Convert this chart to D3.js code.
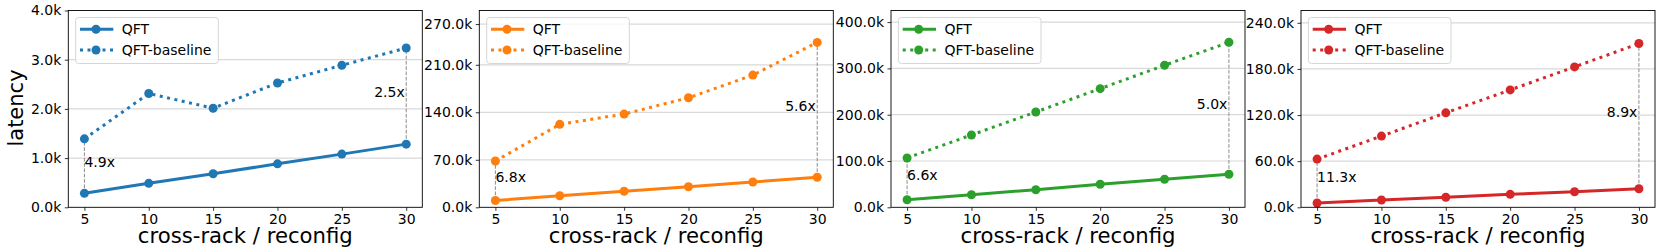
<!DOCTYPE html>
<html>
<head>
<meta charset="utf-8">
<script src="https://cdn.jsdelivr.net/npm/d3@7"></script>
<style>
body { margin: 0; background: #fff; }
text { font-family: "DejaVu Sans", sans-serif; }
</style>
</head>
<body>
<svg id="chart"></svg>
<script>
// x values shared by all panels
var xs = [5, 10, 15, 20, 25, 30];

// QFT / QFT-baseline latency per panel
var qft1 = [284, 487, 682, 884, 1081, 1284];
var base1 = [1391, 2312, 2014, 2527, 2886, 3237];
var qft2 = [10000, 17100, 23600, 30300, 37300, 44200];
var base2 = [68200, 122200, 137400, 161400, 194800, 243000];
var qft3 = [16400, 27200, 38000, 49700, 60500, 71300];
var base3 = [106500, 156200, 205800, 256200, 306700, 356400];
var qft4 = [5600, 9500, 13000, 16900, 20300, 24200];
var base4 = [62700, 92600, 122900, 152700, 182600, 213000];

// y ticks and axis tops
var ticks1 = [0, 1000, 2000, 3000, 4000];
var ticks2 = [0, 70000, 140000, 210000, 270000];
var ticks3 = [0, 100000, 200000, 300000, 400000];
var ticks4 = [0, 60000, 120000, 180000, 240000];
var ymax = [4000, 290000, 425000, 256000];

// speedup labels (first point, last point)
var ratios = [["4.9x", "2.5x"], ["6.8x", "5.6x"], ["6.6x", "5.0x"], ["11.3x", "8.9x"]];

var colors = ["#1f77b4", "#ff7f0e", "#2ca02c", "#d62728"];

var panels = [
  {qft: qft1, base: base1, ticks: ticks1},
  {qft: qft2, base: base2, ticks: ticks2},
  {qft: qft3, base: base3, ticks: ticks3},
  {qft: qft4, base: base4, ticks: ticks4}
];

var svg = d3.select("#chart")
  .attr("width", 1661)
  .attr("height", 252);

var lefts = [68.3, 479.3, 891, 1301];
var width = 354;
var plotTop = 10.5, plotBottom = 207.3;
var height = plotBottom - plotTop;

panels.forEach(function(p, i) {
  var color = colors[i];
  var g = svg.append("g")
    .attr("transform", "translate(" + lefts[i] + "," + plotTop + ")");

  var xScale = d3.scaleLinear().domain([3.75, 31.25]).range([0, width]);
  var yScale = d3.scaleLinear().domain([0, ymax[i]]).range([height, 0]);

  // grid
  g.selectAll(".grid")
    .data(p.ticks.filter(function(t) { return t > 0; }))
    .enter()
    .append("line")
    .attr("x1", 0).attr("x2", width)
    .attr("y1", function(d) { return yScale(d); })
    .attr("y2", function(d) { return yScale(d); })
    .attr("stroke", "#d9d9d9")
    .attr("stroke-width", 1.2);

  // speedup guides
  var ends = [0, xs.length - 1];
  ends.forEach(function(k, j) {
    var x = xScale(xs[k]);
    g.append("line")
      .attr("x1", x).attr("x2", x)
      .attr("y1", yScale(p.qft[k])).attr("y2", yScale(p.base[k]))
      .attr("stroke", "#8c8c8c")
      .attr("stroke-width", 1)
      .attr("stroke-dasharray", "3.7,1.6");
    var mid = (yScale(p.qft[k]) + yScale(p.base[k])) / 2;
    g.append("text")
      .attr("x", j == 0 ? x : x - 1.5)
      .attr("y", mid + 1)
      .attr("text-anchor", j == 0 ? "start" : "end")
      .attr("font-size", "14px")
      .attr("fill", "#000")
      .text(ratios[i][j]);
  });

  var line = d3.line()
    .x(function(d, k) { return xScale(xs[k]); })
    .y(function(d) { return yScale(d); });

  g.append("path")
    .attr("d", line(p.base))
    .attr("fill", "none")
    .attr("stroke", color)
    .attr("stroke-width", 3)
    .attr("stroke-dasharray", "3,4.5");
  g.append("path")
    .attr("d", line(p.qft))
    .attr("fill", "none")
    .attr("stroke", color)
    .attr("stroke-width", 3);

  [p.base, p.qft].forEach(function(series) {
    g.selectAll(null)
      .data(series)
      .enter()
      .append("circle")
      .attr("cx", function(d, k) { return xScale(xs[k]); })
      .attr("cy", function(d) { return yScale(d); })
      .attr("r", 4.5)
      .attr("fill", color);
  });

  // axes
  var xAxis = d3.axisBottom(xScale).tickValues(xs).tickSize(3.5).tickPadding(3.5);
  var yAxis = d3.axisLeft(yScale).tickValues(p.ticks).tickSize(3.5).tickPadding(3.5)
    .tickFormat(function(d) { return (d / 1000).toFixed(1) + "k"; });

  var xa = g.append("g").attr("transform", "translate(0," + height + ")").call(xAxis);
  var ya = g.append("g").call(yAxis);
  [xa, ya].forEach(function(a) {
    a.select(".domain").remove();
    a.selectAll("text").attr("font-size", "14px").attr("fill", "#000")
      .style("font-family", "DejaVu Sans");
    a.selectAll("line").attr("stroke", "#000").attr("stroke-width", 0.8);
  });

  g.append("rect")
    .attr("width", width).attr("height", height)
    .attr("fill", "none")
    .attr("stroke", "#000")
    .attr("stroke-width", 0.9);

  // legend
  var lg = g.append("g").attr("transform", "translate(7.4,7)");
  lg.append("rect")
    .attr("width", 142.6).attr("height", 46)
    .attr("rx", 3)
    .attr("fill", "#fff").attr("fill-opacity", 0.8)
    .attr("stroke", "#d6d6d6").attr("stroke-width", 1);
  var entries = [{name: "QFT", dash: null}, {name: "QFT-baseline", dash: "3,4.5"}];
  entries.forEach(function(e, r) {
    var y = 11.8 + r * 20.7;
    lg.append("line")
      .attr("x1", 4.3).attr("x2", 37.6)
      .attr("y1", y).attr("y2", y)
      .attr("stroke", color).attr("stroke-width", 3)
      .attr("stroke-dasharray", e.dash);
    lg.append("circle").attr("cx", 20.3).attr("cy", y).attr("r", 4.5).attr("fill", color);
    lg.append("text")
      .attr("x", 46).attr("y", y + 5)
      .attr("font-size", "14px")
      .text(e.name);
  });

  // x label
  g.append("text")
    .attr("x", width / 2).attr("y", 242.7 - plotTop)
    .attr("text-anchor", "middle")
    .attr("font-size", "21.2px")
    .text("cross-rack / reconfig");
});

svg.append("text")
  .attr("transform", "translate(23,108) rotate(-90)")
  .attr("text-anchor", "middle")
  .attr("font-size", "21px")
  .text("latency");
</script>
</body>
</html>
